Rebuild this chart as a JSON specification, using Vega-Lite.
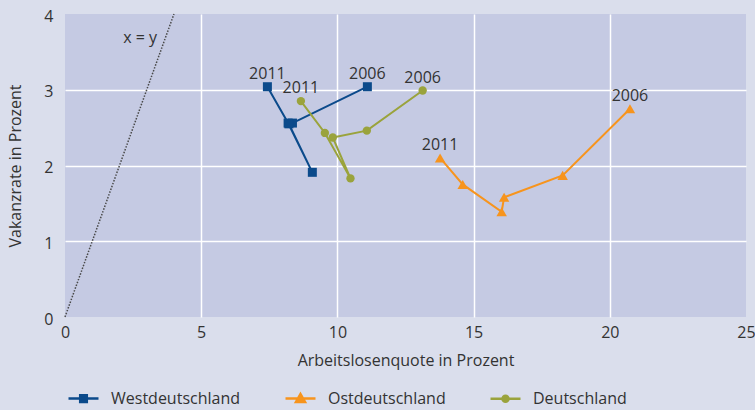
{
  "$schema": "https://vega.github.io/schema/vega-lite/v6.json",
  "width": 681,
  "height": 303,
  "autosize": {"type": "none"},
  "padding": {"left": 65, "top": 14, "right": 9, "bottom": 93},
  "background": "#dadeec",
  "config": {
    "view": {"fill": "#c5cae3", "stroke": null},
    "font": "Open Sans",
    "axis": {
      "domain": false,
      "ticks": false,
      "tickSize": 0,
      "labelFontSize": 16,
      "labelColor": "#333333",
      "titleFontSize": 16,
      "titleFontWeight": "normal",
      "titleColor": "#333333",
      "gridColor": "#ffffff",
      "gridWidth": 1.5,
      "labelFlush": false
    }
  },
  "data": {
    "values": [
      {"region": "Westdeutschland", "year": 2006, "alq": 11.1, "vak": 3.04},
      {"region": "Westdeutschland", "year": 2007, "alq": 8.35, "vak": 2.56},
      {"region": "Westdeutschland", "year": 2008, "alq": 8.22, "vak": 2.55},
      {"region": "Westdeutschland", "year": 2009, "alq": 9.08, "vak": 1.91},
      {"region": "Westdeutschland", "year": 2010, "alq": 8.19, "vak": 2.56},
      {"region": "Westdeutschland", "year": 2011, "alq": 7.43, "vak": 3.04},
      {"region": "Ostdeutschland", "year": 2006, "alq": 20.74, "vak": 2.75},
      {"region": "Ostdeutschland", "year": 2007, "alq": 18.27, "vak": 1.87},
      {"region": "Ostdeutschland", "year": 2008, "alq": 16.12, "vak": 1.58},
      {"region": "Ostdeutschland", "year": 2009, "alq": 16.03, "vak": 1.39},
      {"region": "Ostdeutschland", "year": 2010, "alq": 14.6, "vak": 1.75},
      {"region": "Ostdeutschland", "year": 2011, "alq": 13.77, "vak": 2.1},
      {"region": "Deutschland", "year": 2006, "alq": 13.13, "vak": 2.99},
      {"region": "Deutschland", "year": 2007, "alq": 11.08, "vak": 2.46},
      {"region": "Deutschland", "year": 2008, "alq": 9.83, "vak": 2.37},
      {"region": "Deutschland", "year": 2009, "alq": 10.48, "vak": 1.83},
      {"region": "Deutschland", "year": 2010, "alq": 9.54, "vak": 2.43},
      {"region": "Deutschland", "year": 2011, "alq": 8.66, "vak": 2.85}
    ]
  },
  "encoding": {
    "x": {
      "field": "alq",
      "type": "quantitative",
      "scale": {"domain": [0, 25], "nice": false},
      "axis": {
        "title": "Arbeitslosenquote in Prozent",
        "values": [0, 5, 10, 15, 20, 25],
        "labelPadding": 7,
        "titlePadding": 12,
        "gridOpacity": {"condition": {"test": "datum.value === 0 || datum.value === 25", "value": 0}, "value": 1}
      }
    },
    "y": {
      "field": "vak",
      "type": "quantitative",
      "scale": {"domain": [0, 4], "nice": false},
      "axis": {
        "title": "Vakanzrate in Prozent",
        "values": [0, 1, 2, 3, 4],
        "labelPadding": 12,
        "labelOffset": 2,
        "titlePadding": 20,
        "gridOpacity": {"condition": {"test": "datum.value === 0 || datum.value === 4", "value": 0}, "value": 1}
      }
    }
  },
  "layer": [
    {
      "data": {"values": [{"alq": 0, "vak": 0}, {"alq": 4, "vak": 4}]},
      "mark": {"type": "line", "color": "#4a4a4a", "strokeWidth": 1.5, "strokeDash": [1.5, 1.5]},
      "encoding": {}
    },
    {
      "data": {"values": [{"alq": 2.76, "vak": 3.68, "label": "x = y"}]},
      "mark": {"type": "text", "fontSize": 16, "color": "#333333"},
      "encoding": {"text": {"field": "label"}}
    },
    {
      "mark": {"type": "line", "strokeWidth": 2},
      "encoding": {
        "order": {"field": "year", "type": "ordinal"},
        "color": {
          "field": "region",
          "type": "nominal",
          "scale": {"domain": ["Westdeutschland", "Ostdeutschland", "Deutschland"], "range": ["#0b4a8b", "#f7941d", "#9aa33c"]},
          "legend": {
            "title": null,
            "orient": "none",
            "direction": "horizontal",
            "legendX": 2,
            "legendY": 368,
            "symbolSize": 900,
            "symbolStrokeWidth": 2.5,
            "labelFontSize": 16,
            "labelColor": "#333333",
            "labelOffset": 11,
            "columnPadding": 39,
            "symbolOpacity": 1,
            "encode": {
              "symbols": {
                "update": {
                  "shape": {"signal": "datum.value === 'Westdeutschland' ? 'M-1,0H1M-0.22,-0.22H0.22V0.22H-0.22Z' : (datum.value === 'Ostdeutschland' ? 'M-1,0H1M0,-0.3L0.3,0.22H-0.3Z' : 'M-1,0H1M0.2,0A0.2,0.2 0 1 1 -0.2,0A0.2,0.2 0 1 1 0.2,0Z')"},
                  "fill": {"scale": "color", "field": "value"},
                  "stroke": {"scale": "color", "field": "value"},
                  "strokeWidth": {"value": 2.5}
                }
              }
            }
          }
        }
      }
    },
    {
      "transform": [{"filter": "datum.region === 'Westdeutschland'"}],
      "mark": {"type": "point", "filled": true, "opacity": 1, "shape": "square", "size": 81},
      "encoding": {"color": {"field": "region", "type": "nominal", "legend": null}}
    },
    {
      "transform": [{"filter": "datum.region === 'Ostdeutschland'"}],
      "mark": {"type": "point", "filled": true, "opacity": 1, "shape": "triangle-up", "size": 110},
      "encoding": {"color": {"field": "region", "type": "nominal", "legend": null}}
    },
    {
      "transform": [{"filter": "datum.region === 'Deutschland'"}],
      "mark": {"type": "point", "filled": true, "opacity": 1, "shape": "circle", "size": 70},
      "encoding": {"color": {"field": "region", "type": "nominal", "legend": null}}
    },
    {
      "transform": [{"filter": "datum.year === 2006 || datum.year === 2011"}],
      "mark": {"type": "text", "fontSize": 16, "color": "#333333", "dy": -13},
      "encoding": {"text": {"field": "year", "type": "nominal"}}
    }
  ]
}
